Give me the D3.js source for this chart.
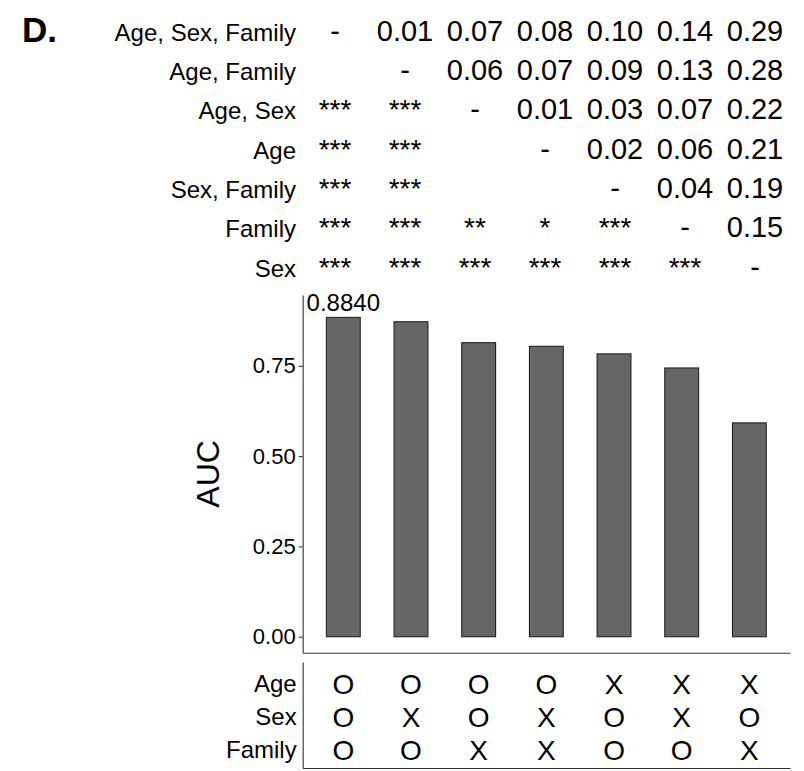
<!DOCTYPE html>
<html>
<head>
<meta charset="utf-8">
<script src="https://cdn.jsdelivr.net/npm/d3@7"></script>
<style>
  body { margin: 0; background: #fff; }
  svg { display: block; font-family: "Liberation Sans", Arial, sans-serif; }
</style>
</head>
<body>
<div id="chart"></div>
<script>
// feature combinations, in bar order
const combos = ['Age, Sex, Family', 'Age, Family', 'Age, Sex', 'Age', 'Sex, Family', 'Family', 'Sex'];
const auc = [0.884, 0.872, 0.814, 0.804, 0.783, 0.744, 0.592];
const topLabel = '0.8840';
const yTicks = [0, 0.25, 0.5, 0.75];

// pairwise table: upper = AUC difference, lower = significance
const pairText = [
  ['-',   '0.01', '0.07', '0.08', '0.10', '0.14', '0.29'],
  ['',    '-',    '0.06', '0.07', '0.09', '0.13', '0.28'],
  ['***', '***',  '-',    '0.01', '0.03', '0.07', '0.22'],
  ['***', '***',  '',     '-',    '0.02', '0.06', '0.21'],
  ['***', '***',  '',     '',     '-',    '0.04', '0.19'],
  ['***', '***',  '**',   '*',    '***',  '-',    '0.15'],
  ['***', '***',  '***',  '***',  '***',  '***',  '-']
];

// which features are used by each model
const features = ['Age', 'Sex', 'Family'];
const included = [
  ['O', 'O', 'O', 'O', 'X', 'X', 'X'],
  ['O', 'X', 'O', 'X', 'O', 'X', 'O'],
  ['O', 'O', 'X', 'X', 'O', 'O', 'X']
];

const W = 804, H = 771;
const svg = d3.select('#chart').append('svg')
  .attr('width', W)
  .attr('height', H);

svg.append('rect').attr('width', W).attr('height', H).attr('fill', '#fff');

// panel tag
svg.append('text')
  .attr('x', 22)
  .attr('y', 41.5)
  .style('font-size', '35px')
  .style('font-weight', 'bold')
  .text('D.');

// ---- top table ----
const colX = d3.scalePoint().domain(combos).range([335, 755]);
const rowY = d3.scalePoint().domain(combos).range([40.7, 276.5]);

const table = svg.append('g').attr('class', 'table');

table.selectAll('text.rowlab')
  .data(combos)
  .join('text')
  .attr('class', 'rowlab')
  .attr('x', 296)
  .attr('y', d => rowY(d))
  .attr('text-anchor', 'end')
  .style('font-size', '24px')
  .text(d => d);

pairText.forEach((row, i) => {
  table.selectAll(null)
    .data(row)
    .join('text')
    .attr('x', (d, j) => colX(combos[j]))
    .attr('y', rowY(combos[i]))
    .attr('text-anchor', 'middle')
    .style('font-size', d => d.startsWith('*') ? '28px' : '29px')
    .text(d => d);
});

// ---- bar chart ----
const plotLeft = 302.7, plotRight = 790;
const x = d3.scaleBand()
  .domain(combos)
  .range([plotLeft, plotRight])
  .paddingInner(0.5)
  .paddingOuter(0.35);

const y = d3.scaleLinear()
  .domain([-0.0442, 0.946])
  .range([652.7, 295]);

const yAxis = d3.axisLeft(y)
  .tickValues(yTicks)
  .tickFormat(d3.format('.2f'))
  .tickSize(4)
  .tickSizeOuter(0)
  .tickPadding(3);

const gy = svg.append('g')
  .attr('transform', `translate(${plotLeft},0)`)
  .call(yAxis);
gy.selectAll('text').style('font-size', '22px').style('fill', '#000');
gy.selectAll('.domain, .tick line').style('stroke', '#333').style('stroke-width', 1.1);

const xAxis = d3.axisBottom(x).tickSize(0).tickSizeOuter(0).tickFormat('');
const gx = svg.append('g')
  .attr('transform', `translate(0,${y.range()[0]})`)
  .call(xAxis);
gx.select('.domain').style('stroke', '#333').style('stroke-width', 1.1);

svg.append('text')
  .attr('transform', `translate(219,${(y.range()[0] + y.range()[1]) / 2}) rotate(-90)`)
  .attr('text-anchor', 'middle')
  .style('font-size', '32px')
  .text('AUC');

svg.append('g')
  .selectAll('rect')
  .data(auc)
  .join('rect')
  .attr('x', (d, i) => x(combos[i]))
  .attr('width', x.bandwidth())
  .attr('y', d => y(d))
  .attr('height', d => y(0) - y(d))
  .attr('fill', '#666666')
  .attr('stroke', '#222')
  .attr('stroke-width', 1.1);

svg.append('text')
  .attr('x', x(combos[0]) + x.bandwidth() / 2)
  .attr('y', y(auc[0]) - 6)
  .attr('text-anchor', 'middle')
  .style('font-size', '24px')
  .text(topLabel);

// ---- feature grid ----
const fy = d3.scalePoint()
  .domain(features)
  .range([662, 768])
  .padding(0.6);

const fAxis = d3.axisLeft(fy).tickSize(0).tickSizeOuter(0).tickPadding(6);
const gf = svg.append('g')
  .attr('transform', `translate(${plotLeft},0)`)
  .call(fAxis);
gf.selectAll('text').style('font-size', '24px').style('fill', '#000').attr('dy', '0.4em');
gf.select('.domain').style('stroke', '#333').style('stroke-width', 1.1);

const gfx = svg.append('g')
  .attr('transform', `translate(0,${fy.range()[1]})`)
  .call(d3.axisBottom(x).tickSize(0).tickSizeOuter(0).tickFormat(''));
gfx.select('.domain').style('stroke', '#333').style('stroke-width', 1.1);

included.forEach((row, i) => {
  svg.append('g')
    .selectAll('text')
    .data(row)
    .join('text')
    .attr('x', (d, j) => x(combos[j]) + x.bandwidth() / 2)
    .attr('y', fy(features[i]))
    .attr('dy', '0.42em')
    .attr('text-anchor', 'middle')
    .style('font-size', '28px')
    .text(d => d);
});
</script>
</body>
</html>
